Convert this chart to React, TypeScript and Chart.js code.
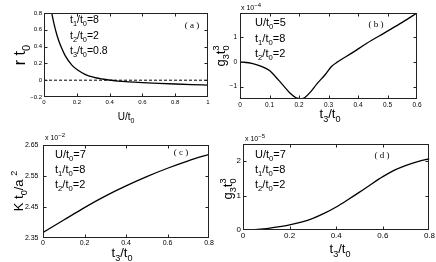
import { useEffect, useRef } from "react";
import { Chart, registerables } from "chart.js";

Chart.register(...registerables);

const W = 436;
const H = 262;
const YAXIS_W = 30;
const XAXIS_H = 18;

// ---- Panel (a): rate vs U/t0 ----
const aU = [0.04, 0.047, 0.06, 0.077, 0.09, 0.108, 0.13, 0.17, 0.21, 0.25, 0.3, 0.35, 0.4, 0.45, 0.5, 0.6, 0.7, 0.8, 0.9, 1.0];
const aRate = [0.87, 0.8, 0.68, 0.55, 0.47, 0.38, 0.29, 0.18, 0.115, 0.07, 0.036, 0.015, 0.002, -0.01, -0.018, -0.028, -0.037, -0.045, -0.052, -0.058];
const aXTicks = [0, 0.2, 0.4, 0.6, 0.8, 1];
const aYTicks = [-0.2, 0, 0.2, 0.4, 0.6, 0.8];

// ---- Panel (b): g3 t0^3 (x1e-4) vs t3/t0 ----
const bT3 = [0, 0.04, 0.07, 0.1, 0.13, 0.15, 0.17, 0.19, 0.2, 0.21, 0.22, 0.24, 0.26, 0.29, 0.31, 0.33, 0.38, 0.43, 0.49, 0.55, 0.6];
const bG3 = [0, -0.06, -0.17, -0.35, -0.73, -1.0, -1.27, -1.45, -1.48, -1.49, -1.44, -1.2, -0.9, -0.5, -0.19, -0.01, 0.36, 0.75, 1.17, 1.59, 1.97];
const bXTicks = [0, 0.1, 0.2, 0.3, 0.4, 0.5, 0.6];
const bYTicks = [-1, 0, 1];

// ---- Panel (c): K t0 / a^2 (x1e-2) vs t3/t0 ----
const cT3 = [0, 0.1, 0.2, 0.3, 0.4, 0.5, 0.6, 0.7, 0.8];
const cK = [2.368, 2.408, 2.448, 2.485, 2.518, 2.548, 2.575, 2.599, 2.62];
const cXTicks = [0, 0.2, 0.4, 0.6, 0.8];
const cYTicks = [2.35, 2.45, 2.55, 2.65];

// ---- Panel (d): g3 t0^3 (x1e-5) vs t3/t0 ----
const dT3 = [0, 0.05, 0.1, 0.15, 0.2, 0.25, 0.3, 0.35, 0.4, 0.45, 0.5, 0.55, 0.6, 0.65, 0.7, 0.75, 0.8];
const dG3 = [0, 0.01, 0.04, 0.09, 0.15, 0.23, 0.34, 0.49, 0.67, 0.88, 1.1, 1.33, 1.55, 1.74, 1.88, 1.99, 2.07];
const dXTicks = [0, 0.2, 0.4, 0.6, 0.8];
const dYTicks = [0, 1, 2];

type Kind = "n" | "sub" | "sup" | "over";
type Seg = [string, Kind];
type TextItem = {
  segs: Seg[];
  x: number;
  y: number;
  size: number;
  small?: number;
  family?: string;
  align?: "left" | "center";
  rotate?: boolean;
};

const SANS = '"Liberation Sans", Arial, sans-serif';
const SERIF = '"Liberation Serif", "Times New Roman", serif';

function drawRich(ctx: CanvasRenderingContext2D, t: TextItem) {
  const family = t.family || SANS;
  const small = t.small || t.size * 0.7;
  const items: { s: Seg; x: number; fs: number }[] = [];
  let w = 0;
  let lastW = 0;
  for (const s of t.segs) {
    const fs = s[1] === "n" ? t.size : small;
    ctx.font = `${fs}px ${family}`;
    const sw = ctx.measureText(s[0]).width;
    if (s[1] === "over") {
      items.push({ s, x: w - lastW, fs });
      w += Math.max(0, sw - lastW);
    } else {
      items.push({ s, x: w, fs });
      w += sw;
      lastW = sw;
    }
  }
  ctx.save();
  ctx.translate(t.x, t.y);
  if (t.rotate) ctx.rotate(-Math.PI / 2);
  const x0 = t.align === "center" ? -w / 2 : 0;
  ctx.fillStyle = "#000";
  ctx.textAlign = "left";
  ctx.textBaseline = "alphabetic";
  for (const it of items) {
    ctx.font = `${it.fs}px ${family}`;
    const k = it.s[1];
    const dy = k === "sub" ? t.size * 0.3 : k === "sup" || k === "over" ? -t.size * 0.45 : 0;
    ctx.fillText(it.s[0], x0 + it.x, dy);
  }
  ctx.restore();
}

type PanelDef = {
  box: [number, number, number, number];
  xs: number[];
  ys: number[];
  xr: [number, number];
  yr: [number, number];
  xTicks: number[];
  yTicks: number[];
  tickSize: number;
  xPad: number;
  yPad: number;
  texts: TextItem[];
  zeroLine?: boolean;
};

const fmt = (v: number) => (v < 0 ? "\u2212" + String(Math.abs(v)) : String(v));

const annot = (x: number, y: number, segs: Seg[], size = 11): TextItem => ({ segs, x, y, size });

const PANELS: PanelDef[] = [
  {
    box: [44, 13, 208, 97],
    xs: aU,
    ys: aRate,
    xr: [0, 1],
    yr: [-0.2, 0.8],
    xTicks: aXTicks,
    yTicks: aYTicks,
    tickSize: 6,
    xPad: 1.5,
    yPad: 2,
    zeroLine: true,
    texts: [
      annot(70, 23, [["t", "n"], ["1", "sub"], ["/t", "n"], ["0", "sub"], ["=8", "n"]], 10.5),
      annot(70, 39, [["t", "n"], ["2", "sub"], ["/t", "n"], ["0", "sub"], ["=2", "n"]], 10.5),
      annot(70, 54, [["t", "n"], ["3", "sub"], ["/t", "n"], ["0", "sub"], ["=0.8", "n"]], 10.5),
      { segs: [["( a )", "n"]], x: 192, y: 28, size: 9, family: SERIF, align: "center" },
      { segs: [["U/t", "n"], ["0", "sub"]], x: 126, y: 120, size: 10, align: "center" },
      { segs: [["r t", "n"], ["0", "sub"]], x: 25, y: 55, size: 16, align: "center", rotate: true },
    ],
  },
  {
    box: [240, 13, 417, 99],
    xs: bT3,
    ys: bG3,
    xr: [0, 0.6],
    yr: [-1.5, 1.97],
    xTicks: bXTicks,
    yTicks: bYTicks,
    tickSize: 6.5,
    xPad: 2.5,
    yPad: 3,
    texts: [
      annot(255, 26, [["U/t", "n"], ["0", "sub"], ["=5", "n"]]),
      annot(255, 42, [["t", "n"], ["1", "sub"], ["/t", "n"], ["0", "sub"], ["=8", "n"]]),
      annot(255, 57, [["t", "n"], ["2", "sub"], ["/t", "n"], ["0", "sub"], ["=2", "n"]]),
      { segs: [["( b )", "n"]], x: 376, y: 27, size: 9, family: SERIF, align: "center" },
      { segs: [["x 10", "n"], ["\u22124", "sup"]], x: 241, y: 10, size: 7, small: 6 },
      { segs: [["t", "n"], ["3", "sub"], ["/t", "n"], ["0", "sub"]], x: 330, y: 118, size: 13, align: "center" },
      { segs: [["g", "n"], ["3", "sub"], ["t", "n"], ["0", "sub"], ["3", "over"]], x: 225, y: 56, size: 13, align: "center", rotate: true },
    ],
  },
  {
    box: [43, 145, 209, 238],
    xs: cT3,
    ys: cK,
    xr: [0, 0.8],
    yr: [2.35, 2.65],
    xTicks: cXTicks,
    yTicks: cYTicks,
    tickSize: 7,
    xPad: 1,
    yPad: 4.5,
    texts: [
      annot(55, 158, [["U/t", "n"], ["0", "sub"], ["=7", "n"]]),
      annot(55, 173, [["t", "n"], ["1", "sub"], ["/t", "n"], ["0", "sub"], ["=8", "n"]]),
      annot(55, 188, [["t", "n"], ["2", "sub"], ["/t", "n"], ["0", "sub"], ["=2", "n"]]),
      { segs: [["( c )", "n"]], x: 181, y: 155, size: 9, family: SERIF, align: "center" },
      { segs: [["x 10", "n"], ["\u22122", "sup"]], x: 45, y: 140, size: 7, small: 6 },
      { segs: [["t", "n"], ["3", "sub"], ["/t", "n"], ["0", "sub"]], x: 122, y: 257, size: 13, align: "center" },
      { segs: [["K t", "n"], ["0", "sub"], ["/a ", "n"], ["2", "sup"]], x: 23, y: 191, size: 13, align: "center", rotate: true },
    ],
  },
  {
    box: [243, 144, 431, 230],
    xs: dT3,
    ys: dG3,
    xr: [0, 0.8],
    yr: [0, 2.5],
    xTicks: dXTicks,
    yTicks: dYTicks,
    tickSize: 8,
    xPad: 1,
    yPad: 2,
    texts: [
      annot(255, 158, [["U/t", "n"], ["0", "sub"], ["=7", "n"]]),
      annot(255, 173, [["t", "n"], ["1", "sub"], ["/t", "n"], ["0", "sub"], ["=8", "n"]]),
      annot(255, 188, [["t", "n"], ["2", "sub"], ["/t", "n"], ["0", "sub"], ["=2", "n"]]),
      { segs: [["( d )", "n"]], x: 382, y: 158, size: 9, family: SERIF, align: "center" },
      { segs: [["x 10", "n"], ["\u22125", "sup"]], x: 245, y: 141, size: 7, small: 6 },
      { segs: [["t", "n"], ["3", "sub"], ["/t", "n"], ["0", "sub"]], x: 340, y: 253, size: 13, align: "center" },
      { segs: [["g", "n"], ["3", "sub"], ["t", "n"], ["0", "sub"], ["3", "over"]], x: 232, y: 189, size: 13, align: "center", rotate: true },
    ],
  },
];

function makeFrame(p: PanelDef) {
  return {
    id: "frame",
    afterDraw(chart: any) {
      const { ctx, chartArea: a, scales } = chart;
      ctx.save();
      ctx.strokeStyle = "#222";
      ctx.lineWidth = 1;
      const l = Math.round(a.left) + 0.5;
      const r = Math.round(a.right) - 0.5;
      const t = Math.round(a.top) + 0.5;
      const b = Math.round(a.bottom) - 0.5;
      ctx.strokeRect(l, t, r - l, b - t);
      const tl = 3;
      ctx.beginPath();
      for (const v of p.xTicks) {
        const px = Math.round(scales.x.getPixelForValue(v)) + 0.5;
        if (px <= l + 1 || px >= r - 1) continue;
        ctx.moveTo(px, b);
        ctx.lineTo(px, b - tl);
        ctx.moveTo(px, t);
        ctx.lineTo(px, t + tl);
      }
      for (const v of p.yTicks) {
        const py = Math.round(scales.y.getPixelForValue(v)) + 0.5;
        if (py <= t + 1 || py >= b - 1) continue;
        ctx.moveTo(l, py);
        ctx.lineTo(l + tl, py);
        ctx.moveTo(r, py);
        ctx.lineTo(r - tl, py);
      }
      ctx.stroke();
      ctx.restore();
      for (const tx of p.texts) drawRich(ctx, tx);
    },
  };
}

function scaleCfg(p: PanelDef, axis: "x" | "y") {
  const range = axis === "x" ? p.xr : p.yr;
  const ticks = axis === "x" ? p.xTicks : p.yTicks;
  return {
    type: "linear" as const,
    min: range[0],
    max: range[1],
    afterBuildTicks: (s: any) => {
      s.ticks = ticks.map((v) => ({ value: v }));
    },
    afterFit: (s: any) => {
      if (axis === "x") s.height = XAXIS_H;
      else s.width = YAXIS_W;
    },
    grid: { display: false, drawTicks: false },
    border: { display: false },
    ticks: {
      autoSkip: false,
      maxRotation: 0,
      padding: axis === "x" ? p.xPad : p.yPad,
      color: "#000",
      font: { family: SANS, size: p.tickSize },
      callback: (v: any) => fmt(Number(v)),
    },
  };
}

function Panel({ p }: { p: PanelDef }) {
  const ref = useRef<HTMLCanvasElement | null>(null);
  useEffect(() => {
    if (!ref.current) return;
    const [l, t, r, b] = p.box;
    const datasets: any[] = [
      {
        data: p.xs.map((x, i) => ({ x, y: p.ys[i] })),
        borderColor: "#000",
        borderWidth: 1.3,
        pointRadius: 0,
        fill: false,
        cubicInterpolationMode: "monotone",
      },
    ];
    if (p.zeroLine) {
      datasets.push({
        data: [
          { x: p.xr[0], y: 0 },
          { x: p.xr[1], y: 0 },
        ],
        borderColor: "#000",
        borderWidth: 1,
        borderDash: [3, 2],
        pointRadius: 0,
        fill: false,
      });
    }
    const chart = new Chart(ref.current, {
      type: "line",
      data: { datasets },
      options: {
        responsive: false,
        animation: false,
        events: [],
        layout: {
          padding: { left: l - YAXIS_W, top: t, right: W - r, bottom: H - b - XAXIS_H },
        },
        plugins: { legend: { display: false }, tooltip: { enabled: false } },
        scales: { x: scaleCfg(p, "x"), y: scaleCfg(p, "y") } as any,
      },
      plugins: [makeFrame(p)],
    });
    return () => chart.destroy();
  }, [p]);
  return (
    <canvas
      ref={ref}
      width={W}
      height={H}
      style={{ position: "absolute", left: 0, top: 0, width: W, height: H }}
    />
  );
}

export default function App() {
  return (
    <div
      style={{
        position: "fixed",
        left: 0,
        top: 0,
        width: W,
        height: H,
        background: "#fff",
        overflow: "hidden",
      }}
    >
      {PANELS.map((p, i) => (
        <Panel key={i} p={p} />
      ))}
    </div>
  );
}
